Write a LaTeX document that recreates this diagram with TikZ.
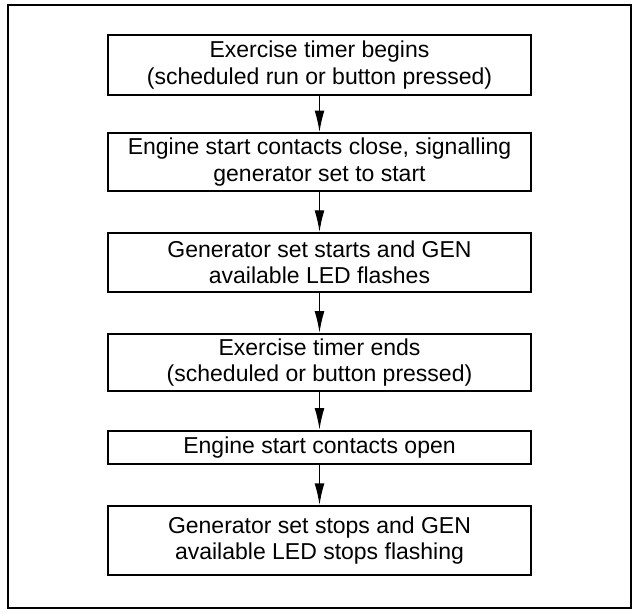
\documentclass[tikz,border=0pt]{standalone}
\usepackage{fontspec}
\setmainfont{Liberation Sans}
\usetikzlibrary{arrows.meta}
\begin{document}
\begin{tikzpicture}[x=1pt,y=-1pt,
  stepbox/.style={draw=black, line width=2pt, minimum width=433pt, inner sep=0pt, align=center,
    font=\fontsize{23.5}{27}\selectfont},
  flow/.style={line width=1.2pt, -{Latex[length=22pt,width=10pt]}}]
\useasboundingbox (0,0) rectangle (653,627);
\draw[line width=2.2pt] (8,5.5) rectangle (645,621.5);
\node[stepbox, minimum height=61pt] (b1) at (326.5,66.5) {Exercise timer begins\\(scheduled run or button pressed)};
\node[stepbox, minimum height=59pt] (b2) at (326.5,165.5) {Engine start contacts close, signalling\\generator set to start};
\node[stepbox, minimum height=60pt] (b3) at (326.5,268) {Generator set starts and GEN\\available LED flashes};
\node[stepbox, minimum height=59pt] (b4) at (326.5,370.5) {Exercise timer ends\\(scheduled or button pressed)};
\node[stepbox, minimum height=34pt] (b5) at (326.5,457) {Engine start contacts open};
\node[stepbox, minimum height=71pt] (b6) at (326.5,552.5) {Generator set stops and GEN\\available LED stops flashing};
\draw[flow] (b1.south) -- (b2.north);
\draw[flow] (b2.south) -- (b3.north);
\draw[flow] (b3.south) -- (b4.north);
\draw[flow] (b4.south) -- (b5.north);
\draw[flow] (b5.south) -- (b6.north);
\end{tikzpicture}
\end{document}
